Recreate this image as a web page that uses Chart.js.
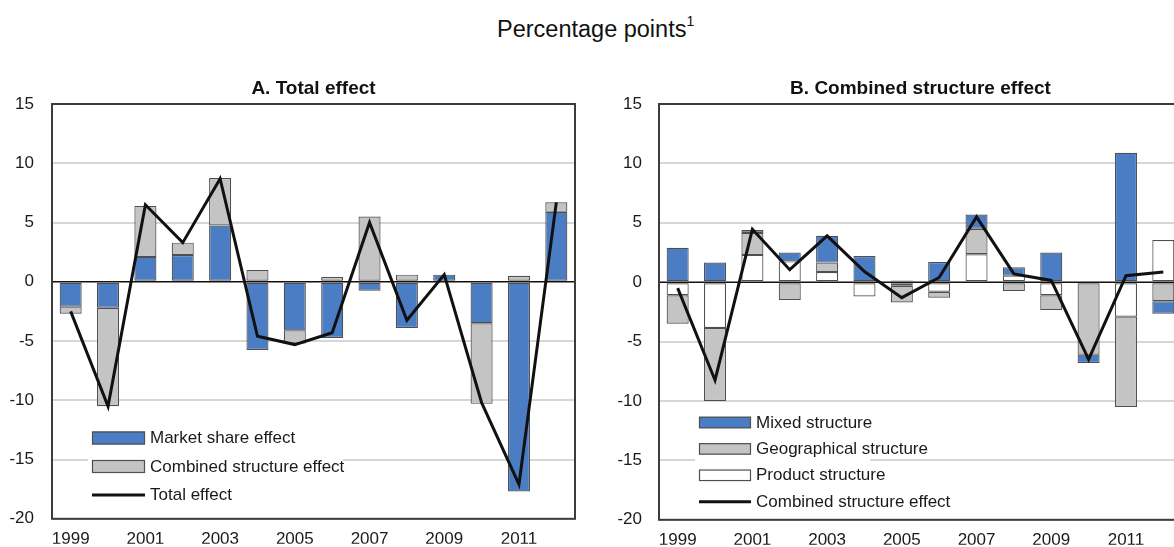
<!DOCTYPE html>
<html><head><meta charset="utf-8">
<script src="https://cdn.jsdelivr.net/npm/chart.js@4.4.1/dist/chart.umd.min.js"></script>
<style>
html,body{margin:0;padding:0;background:#fff;overflow:hidden;}
#wrap{position:relative;width:1174px;height:547px;overflow:hidden;background:#fff;}
#title{position:absolute;left:497px;top:18px;font-family:'Liberation Sans',Arial,sans-serif;font-size:23.5px;line-height:1;color:#111;white-space:nowrap;}
#title span{font-size:14px;position:relative;top:-11px;}
canvas{position:absolute;top:0;}
#cA{left:0;width:587px;height:547px;}
#cB{left:587px;width:600px;height:547px;}
</style></head><body>
<div id="wrap">
<div id="title">Percentage points<span>1</span></div>
<canvas id="cA" width="587" height="547"></canvas>
<canvas id="cB" width="600" height="547"></canvas>
</div>
<script>
// ---------- data ----------
const years = ['1999','2000','2001','2002','2003','2004','2005','2006','2007','2008','2009','2010','2011','2012'];
const xTickLabels = ['1999','','2001','','2003','','2005','','2007','','2009','','2011',''];

// Panel A: Total effect
const marketShareEffect   = [-2.1, -2.2, 2.1, 2.25, 4.75, -5.75, -4.1, -4.75, -0.75, -3.9, 0.6, -3.5, -17.7, 5.9];
const combinedStructureA  = [-0.6, -8.3, 4.3, 1.05, 4.0, 1.0, -1.1, 0.4, 5.5, 0.6, 0.0, -6.8, 0.5, 0.8];
const totalEffect         = [-2.5, -10.5, 6.5, 3.3, 8.7, -4.6, -5.3, -4.3, 5.0, -3.25, 0.6, -10.2, -17.1, 6.7];

// Panel B: Combined structure effect
const mixedStructure        = [2.9, 1.65, 0.25, 0.75, 2.25, 2.2, 0.15, 1.7, 1.2, 0.7, 2.5, -0.7, 10.9, -1.05];
const geographicalStructure = [-2.4, -6.15, 1.85, -1.5, 0.8, 0.0, -1.4, -0.5, 2.15, -0.75, -1.25, -6.1, -7.6, -1.6];
const productStructure      = [-1.1, -3.85, 2.3, 1.75, 0.85, -1.2, -0.3, -0.8, 2.35, 0.55, -1.1, 0.0, -2.9, 3.55];
const combinedStructureB    = [-0.5, -8.25, 4.45, 1.05, 3.9, 0.9, -1.3, 0.4, 5.5, 0.7, 0.15, -6.5, 0.55, 0.85];

const yMin = -20, yMax = 15, yStep = 5;

// ---------- styles ----------
const FONT = "'Liberation Sans', Arial, sans-serif";
const BLUE = '#4a7dc4', GREY = '#c4c4c4', WHITE = '#ffffff', EDGE = '#4f4f4f', INK = '#1a1a1a';
Chart.defaults.font.family = FONT;
Chart.defaults.color = INK;

const deco = {
  id: 'deco',
  beforeDatasetDraw(chart, args) {
    if (args.meta.type !== 'line') return;
    const {ctx, chartArea: a, scales: {y}} = chart;
    const y0 = y.getPixelForValue(0);
    ctx.save();
    ctx.strokeStyle = '#111'; ctx.lineWidth = 1.6;
    ctx.beginPath(); ctx.moveTo(a.left, y0); ctx.lineTo(a.right, y0); ctx.stroke();
    ctx.restore();
  },
  afterDraw(chart, args, o) {
    const {ctx, chartArea: a} = chart;
    ctx.save();
    // legend
    const L = o.legend;
    ctx.fillStyle = '#fff';
    ctx.fillRect(L.boxLeft, L.boxTop, L.boxRight - L.boxLeft, L.boxBottom - L.boxTop);
    ctx.font = '17px ' + FONT;
    ctx.textBaseline = 'middle';
    ctx.textAlign = 'left';
    chart.data.datasets.forEach((ds, i) => {
      const cy = L.y + i * L.rowH;
      if (ds.type === 'line') {
        ctx.strokeStyle = ds.borderColor; ctx.lineWidth = 3;
        ctx.beginPath(); ctx.moveTo(L.x, cy); ctx.lineTo(L.x + L.w, cy); ctx.stroke();
      } else {
        ctx.fillStyle = ds.backgroundColor;
        ctx.fillRect(L.x, cy - L.h / 2, L.w, L.h);
        ctx.strokeStyle = EDGE; ctx.lineWidth = 1.2;
        ctx.strokeRect(L.x + 0.5, cy - L.h / 2 + 0.5, L.w - 1, L.h - 1);
      }
      ctx.fillStyle = INK;
      ctx.fillText(ds.label, L.x + L.w + L.gap, cy + 0.5);
    });
    // frame
    ctx.strokeStyle = '#3c3c3c'; ctx.lineWidth = 2;
    ctx.strokeRect(a.left, a.top, a.right - a.left, a.bottom - a.top);
    ctx.restore();
  }
};

function makeOptions(title, yWidth, yPad, padRight, legend) {
  return {
    responsive: false,
    animation: false,
    layout: {padding: {top: 77.6, right: padRight, left: 0, bottom: 0}},
    plugins: {
      legend: {display: false},
      tooltip: {enabled: false},
      title: {display: true, fullSize: false, text: title, color: '#111',
              font: {size: 19, weight: 'bold', family: FONT}, padding: {top: 0, bottom: 3.6}},
      deco: {legend}
    },
    scales: {
      x: {
        stacked: true,
        grid: {display: false, drawTicks: false},
        border: {display: false},
        ticks: {autoSkip: false, maxRotation: 0, padding: 10, color: INK,
                font: {size: 17}, callback: (v, i) => xTickLabels[i]},
        afterFit(s) { s.height = 25; }
      },
      y: {
        stacked: true, min: yMin, max: yMax,
        grid: {drawTicks: false, lineWidth: 2,
               color: c => (c.tick && c.tick.value === 0) ? 'rgba(0,0,0,0)' : '#d6d6d6'},
        border: {display: false},
        ticks: {stepSize: yStep, padding: yPad, color: INK, font: {size: 17}},
        afterFit(s) { s.width = yWidth; }
      }
    }
  };
}

const barStyle = {borderColor: EDGE, borderWidth: 1.2, borderSkipped: false,
                  barPercentage: 0.59, categoryPercentage: 1.0};
const lineStyle = {type: 'line', borderColor: '#111', borderWidth: 3, pointRadius: 0,
                   tension: 0, fill: false, stack: 'line', order: 0};

new Chart(document.getElementById('cA'), {
  type: 'bar',
  data: {
    labels: years,
    datasets: [
      Object.assign({label: 'Market share effect', data: marketShareEffect, backgroundColor: BLUE, order: 1, stack: 'bars'}, barStyle),
      Object.assign({label: 'Combined structure effect', data: combinedStructureA, backgroundColor: GREY, order: 2, stack: 'bars'}, barStyle),
      Object.assign({label: 'Total effect', data: totalEffect}, lineStyle)
    ]
  },
  options: makeOptions('A. Total effect', 52, 18, 12,
    {x: 92, y: 438, rowH: 28.5, w: 53, h: 13, gap: 5, boxLeft: 88, boxRight: 343, boxTop: 424, boxBottom: 508}),
  plugins: [deco]
});

new Chart(document.getElementById('cB'), {
  type: 'bar',
  data: {
    labels: years,
    datasets: [
      Object.assign({label: 'Mixed structure', data: mixedStructure, backgroundColor: BLUE, order: 3, stack: 'bars'}, barStyle),
      Object.assign({label: 'Geographical structure', data: geographicalStructure, backgroundColor: GREY, order: 2, stack: 'bars'}, barStyle),
      Object.assign({label: 'Product structure', data: productStructure, backgroundColor: WHITE, order: 1, stack: 'bars'}, barStyle),
      Object.assign({label: 'Combined structure effect', data: combinedStructureB}, lineStyle)
    ]
  },
  options: makeOptions('B. Combined structure effect', 72, 17, 5,
    {x: 112, y: 422.5, rowH: 26.4, w: 52, h: 11.5, gap: 5, boxLeft: 108, boxRight: 283, boxTop: 409, boxBottom: 512}),
  plugins: [deco]
});
</script>
</body></html>
